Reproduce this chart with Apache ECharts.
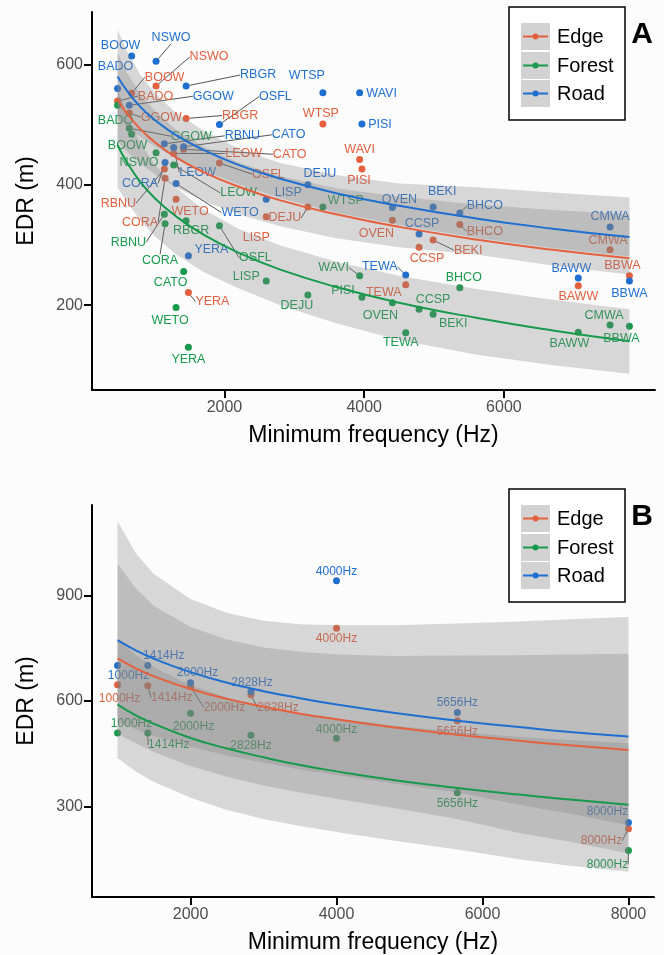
<!DOCTYPE html>
<html>
<head>
<meta charset="utf-8">
<script src="https://cdn.jsdelivr.net/npm/echarts@6.0.0/dist/echarts.min.js"></script>
<style>
html, body { margin: 0; padding: 0; background: #fcfcfd; }
#chart { width: 664px; height: 955px; }
</style>
</head>
<body>
<div id="chart"></div>
<script>
// ---- panel A : species, minimum frequency and EDR per habitat ----
var species = ['BADO', 'GGOW', 'BOOW', 'NSWO', 'RBNU', 'CORA', 'LEOW', 'WETO', 'CATO', 'RBGR', 'YERA', 'OSFL', 'LISP',
    'DEJU', 'WTSP', 'WAVI', 'PISI', 'OVEN', 'TEWA', 'CCSP', 'BEKI', 'BHCO', 'BAWW', 'CMWA', 'BBWA'];
var minFreq = [470, 638, 671, 1021, 1140, 1150, 1273, 1307, 1416, 1451, 1484, 1928, 2598,
    3194, 3409, 3935, 3968, 4404, 4595, 4786, 4987, 5369, 7065, 7520, 7797];
var edrEdge = [539, 519, 552, 564, 426, 411, 452, 376, 459, 510, 221, 436, 347,
    363, 501, 442, 426, 341, 234, 296, 308, 334, 232, 292, 249];
var edrForest = [532, 494, 484, 453, 351, 335, 433, 196, 256, 340, 130, 332, 240,
    217, 363, 249, 213, 204, 154, 193, 185, 229, 155, 167, 165];
var edrRoad = [560, 532, 614, 605, 468, 437, 462, 402, 463, 564, 282, 500, 376,
    400, 553, 553, 501, 362, 250, 318, 363, 353, 245, 330, 240];

// fitted lines and ribbons
var fitFreqA = [470, 600, 800, 1000, 1300, 1700, 2200, 2800, 3600, 4500, 5600, 6700, 7797];
var fitEdgeA = [542, 519, 492, 471, 446, 421, 397, 374, 351, 330, 309, 292, 278];
var fitForestA = [466, 438, 404, 378, 348, 317, 287, 259, 230, 204, 179, 158, 140];
var fitRoadA = [580, 557, 529, 508, 483, 458, 433, 410, 386, 365, 344, 327, 313];
var lowEdgeA = [472, 455, 435, 418, 396, 373, 351, 331, 311, 296, 284, 266, 251];
var highEdgeA = [620, 587, 550, 523, 492, 463, 437, 414, 394, 380, 367, 358, 351];
var lowForestA = [395, 372, 340, 315, 285, 255, 228, 200, 170, 142, 118, 100, 86];
var highForestA = [561, 518, 469, 434, 396, 359, 327, 299, 272, 249, 227, 209, 193];
var lowRoadA = [510, 497, 479, 464, 445, 424, 401, 378, 354, 333, 312, 295, 281];
var highRoadA = [658, 622, 582, 553, 520, 490, 460, 436, 416, 402, 396, 387, 379];

// ---- panel B : tone frequencies ----
var toneFreq = [1000, 1414, 2000, 2828, 4000, 5656, 8000];
var toneName = ['1000Hz', '1414Hz', '2000Hz', '2828Hz', '4000Hz', '5656Hz', '8000Hz'];
var toneEdge = [646, 643, 641, 618, 807, 544, 237];
var toneForest = [509, 509, 565, 503, 494, 339, 175];
var toneRoad = [701, 701, 652, 627, 942, 567, 255];

var fitFreqB = [1000, 1250, 1500, 2000, 2500, 3000, 3500, 4000, 4800, 5656, 6500, 7200, 8000];
var fitEdgeB = [721, 693, 670, 634, 606, 584, 564, 548, 525, 504, 487, 474, 461];
var fitForestB = [590, 559, 535, 495, 465, 440, 418, 400, 375, 353, 334, 320, 305];
var fitRoadB = [773, 744, 720, 682, 652, 628, 608, 590, 566, 544, 526, 512, 499];
var lowEdgeB = [507, 480, 455, 415, 385, 360, 340, 322, 295, 265, 225, 200, 167];
var highEdgeB = [991, 920, 870, 810, 775, 752, 740, 732, 728, 729, 730, 732, 734];
var lowForestB = [438, 400, 370, 325, 290, 265, 245, 228, 203, 178, 150, 132, 115];
var highForestB = [775, 730, 695, 645, 610, 585, 565, 550, 530, 512, 498, 489, 480];
var lowRoadB = [540, 520, 500, 470, 445, 425, 405, 390, 365, 340, 305, 280, 247];
var highRoadB = [1111, 1020, 960, 890, 850, 828, 818, 815, 815, 820, 826, 832, 839];

// label offsets (px) from each point, repel style
var offEdgeA = [[38, -5], [32, 4], [33, -16], [53, -29], [-46, 34], [-25, 44], [70, 0], [14, 12], [106, 5], [54, -3], [24, 9], [49, 11], [-10, 21],
    [-23, 11], [-2, -10], [0, -10], [-3, 11], [-16, 13], [-22, 8], [8, 11], [35, 10], [25, 7], [0, 11], [-2, -9], [-7, -10]];
var offForestA = [[-2, 15], [62, 8], [-4, 11], [-17, 10], [-36, 28], [-5, 37], [65, 28], [-6, 13], [-13, 11], [5, 10], [0, 12], [36, 32], [-20, -5],
    [-11, 11], [23, -6], [-26, -8], [-19, -7], [-12, 13], [-5, 10], [14, -10], [20, 9], [4, -10], [-9, 11], [-6, -9], [-8, 12]];
var offRoadA = [[-2, -22], [84, -9], [-11, -10], [15, -24], [78, -8], [-25, 21], [24, 25], [64, 29], [105, -12], [72, -11], [23, -6], [56, -28], [22, -7],
    [12, -11], [-16, -17], [22, 1], [18, 1], [7, -8], [-26, -8], [3, -11], [9, -15], [25, -7], [-7, -9], [0, -10], [0, 12]];
var offEdgeB = [[2, 14], [24, 12], [34, 21], [27, 13], [0, 11], [0, 11], [-27, 12]];
var offForestB = [[14, -9], [21, 12], [3, 13], [0, 11], [0, -9], [0, 11], [-21, 14]];
var offRoadB = [[11, 10], [16, -10], [7, -10], [1, -9], [0, -9], [0, -10], [-21, -11]];

var colEdge = '#e4603e';
var colForest = '#179a4b';
var colRoad = '#1f6fd1';
var font = '"Liberation Sans", Arial, Helvetica, sans-serif';

function pointSeries(names, freqs, vals, offs, color, ax, size) {
    var data = [];
    for (var i = 0; i < freqs.length; i++) {
        var far = Math.sqrt(offs[i][0] * offs[i][0] + offs[i][1] * offs[i][1]) > 24;
        data.push({ name: names[i], value: [freqs[i], vals[i]], labelLine: { show: far } });
    }
    return {
        type: 'scatter', xAxisIndex: ax, yAxisIndex: ax, data: data, z: 1, silent: true,
        symbolSize: 7, itemStyle: { color: color, opacity: 1 },
        label: { show: true, position: 'inside', formatter: '{b}', color: color, fontSize: size, fontFamily: font },
        labelLayout: function (p) {
            return { dx: offs[p.dataIndex][0], dy: offs[p.dataIndex][1] };
        },
        labelLine: { show: false, lineStyle: { color: '#555', width: 1 } }
    };
}

function bandSeries(freqs, low, high, ax) {
    var data = [];
    for (var i = 0; i < freqs.length; i++) data.push([freqs[i], low[i], high[i]]);
    return {
        type: 'custom', xAxisIndex: ax, yAxisIndex: ax, data: data, z: 2, silent: true,
        encode: { x: 0, y: [1, 2] },
        renderItem: function (params, api) {
            if (params.dataIndex !== 0) return null;
            var top = [], bot = [];
            for (var j = 0; j < data.length; j++) {
                top.push(api.coord([data[j][0], data[j][2]]));
                bot.unshift(api.coord([data[j][0], data[j][1]]));
            }
            return { type: 'polygon', shape: { points: top.concat(bot) }, style: { fill: 'rgba(128,128,128,0.3)' } };
        }
    };
}

function fitSeries(freqs, vals, color, ax) {
    var data = [];
    for (var i = 0; i < freqs.length; i++) data.push([freqs[i], vals[i]]);
    return {
        type: 'line', xAxisIndex: ax, yAxisIndex: ax, data: data, z: 3, silent: true,
        smooth: true, showSymbol: false, symbol: 'none', lineStyle: { color: color, width: 2 }
    };
}

function plain(v) { return String(v); }

function xAxisOpt(grid, min, max, ticks) {
    return {
        type: 'value', gridIndex: grid, min: min, max: max,
        name: 'Minimum frequency (Hz)', nameLocation: 'middle', nameGap: 34,
        nameTextStyle: { fontSize: 23, color: '#000', fontFamily: font },
        axisLine: { show: true, lineStyle: { color: '#000', width: 2 } },
        axisTick: { show: true, length: 8, customValues: ticks, lineStyle: { color: '#000', width: 2 } },
        axisLabel: { customValues: ticks, formatter: plain, fontSize: 16, color: '#4d4d4d', margin: 10, fontFamily: font },
        splitLine: { show: false }
    };
}

function yAxisOpt(grid, min, max, ticks) {
    return {
        type: 'value', gridIndex: grid, min: min, max: max,
        name: 'EDR (m)', nameLocation: 'middle', nameGap: 54, nameRotate: 90,
        nameTextStyle: { fontSize: 23, color: '#000', fontFamily: font },
        axisLine: { show: true, lineStyle: { color: '#000', width: 2 } },
        axisTick: { show: true, length: 8, customValues: ticks, lineStyle: { color: '#000', width: 2 } },
        axisLabel: { customValues: ticks, formatter: plain, fontSize: 16, color: '#4d4d4d', margin: 9, fontFamily: font },
        splitLine: { show: false }
    };
}

function legendBox(top, letter) {
    var items = [['Edge', colEdge], ['Forest', colForest], ['Road', colRoad]];
    var rowY = [top + 16, top + 45, top + 73];
    var g = [{ type: 'rect', shape: { x: 509, y: top, width: 116, height: 113 },
        style: { fill: '#fff', stroke: '#000', lineWidth: 1.5 } }];
    for (var i = 0; i < 3; i++) {
        g.push({ type: 'rect', shape: { x: 521, y: rowY[i], width: 29, height: 27 }, style: { fill: '#d2d2d2' } });
        g.push({ type: 'line', shape: { x1: 523, y1: rowY[i] + 13.5, x2: 548, y2: rowY[i] + 13.5 },
            style: { stroke: items[i][1], lineWidth: 2 } });
        g.push({ type: 'circle', shape: { cx: 535.5, cy: rowY[i] + 13.5, r: 3 }, style: { fill: items[i][1] } });
        g.push({ type: 'text', x: 557, y: rowY[i] + 14,
            style: { text: items[i][0], fontSize: 20, fill: '#000', fontFamily: font, verticalAlign: 'middle' } });
    }
    g.push({ type: 'text', x: 642, y: top + 28,
        style: { text: letter, fontSize: 30, fontWeight: 'bold', fill: '#000', fontFamily: font,
            align: 'center', verticalAlign: 'middle' } });
    return g;
}

var chart = echarts.init(document.getElementById('chart'), null, { renderer: 'canvas' });

var option = {
    backgroundColor: '#fcfcfd',
    animation: false,
    grid: [
        { left: 92, right: 9, top: 12, bottom: 565, containLabel: false },
        { left: 92, right: 10, top: 505, bottom: 47, containLabel: false }
    ],
    xAxis: [xAxisOpt(0, 104, 8163, [2000, 4000, 6000]), xAxisOpt(1, 650, 8350, [2000, 4000, 6000, 8000])],
    yAxis: [yAxisOpt(0, 59, 687, [200, 400, 600]), yAxisOpt(1, 43, 1157, [300, 600, 900])],
    series: [
        pointSeries(species, minFreq, edrEdge, offEdgeA, colEdge, 0, 12.5),
        pointSeries(species, minFreq, edrForest, offForestA, colForest, 0, 12.5),
        pointSeries(species, minFreq, edrRoad, offRoadA, colRoad, 0, 12.5),
        bandSeries(fitFreqA, lowEdgeA, highEdgeA, 0),
        bandSeries(fitFreqA, lowForestA, highForestA, 0),
        bandSeries(fitFreqA, lowRoadA, highRoadA, 0),
        fitSeries(fitFreqA, fitEdgeA, colEdge, 0),
        fitSeries(fitFreqA, fitForestA, colForest, 0),
        fitSeries(fitFreqA, fitRoadA, colRoad, 0),
        pointSeries(toneName, toneFreq, toneEdge, offEdgeB, colEdge, 1, 12),
        pointSeries(toneName, toneFreq, toneForest, offForestB, colForest, 1, 12),
        pointSeries(toneName, toneFreq, toneRoad, offRoadB, colRoad, 1, 12),
        bandSeries(fitFreqB, lowEdgeB, highEdgeB, 1),
        bandSeries(fitFreqB, lowForestB, highForestB, 1),
        bandSeries(fitFreqB, lowRoadB, highRoadB, 1),
        fitSeries(fitFreqB, fitEdgeB, colEdge, 1),
        fitSeries(fitFreqB, fitForestB, colForest, 1),
        fitSeries(fitFreqB, fitRoadB, colRoad, 1)
    ],
    graphic: legendBox(7, 'A').concat(legendBox(489, 'B'))
};

chart.setOption(option);
</script>
</body>
</html>
